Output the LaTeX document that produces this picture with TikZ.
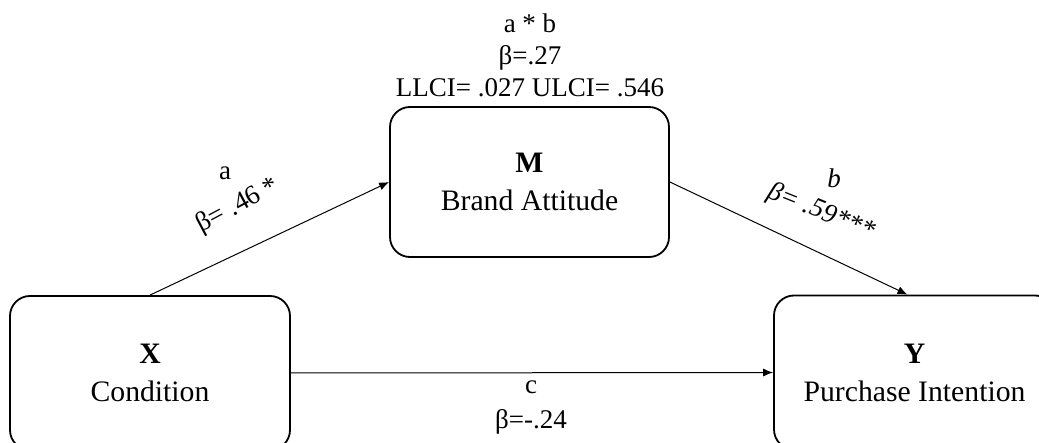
\documentclass[tikz,border=0pt]{standalone}
\usepackage{fontspec}
\setmainfont{Liberation Serif}
\usetikzlibrary{arrows.meta}
\tikzset{
  box/.style={draw, line width=0.9pt, rounded corners=10pt, minimum width=140pt, minimum height=77pt, align=center, inner sep=0pt,
    font=\fontsize{14.85}{19}\selectfont},
  lbl/.style={align=center, inner sep=0pt, font=\fontsize{13.5}{16}\selectfont},
  conn/.style={line width=0.5pt, -{Latex[length=5pt,width=4pt]}}
}
\begin{document}
\begin{tikzpicture}[x=0.5pt,y=-0.5pt]
\useasboundingbox (0,0) rectangle (1039,443);
\clip (0,0) rectangle (1039,443);
\node[box, minimum height=77pt] (X) at (150,373) {\textbf{X}\\Condition};
\node[box, minimum width=140.5pt] (Y) at (914.5,372.5) {\textbf{Y}\\Purchase Intention};
\node[box, minimum width=139.5pt, minimum height=75pt] (M) at (529.5,182) {\textbf{M}\\Brand Attitude};
\node[lbl] (ab) at (530,55) {a * b\\β=.27\\LLCI= .027 ULCI= .546};
\coordinate (Yin) at ([xshift=-3.5pt]Y.north);
\draw[conn] (X.north) -- (M.west);
\draw[conn] (M.east) -- (Yin);
\draw[conn] (X.east) -- (Y.west);
\node[lbl] (la) at (225,173) {a};
\node[lbl, rotate=28] (lb1) at (238,206) {β= .46 *};
\node[lbl, font=\fontsize{13.5}{16}\selectfont\itshape] (lb) at (834,178) {b};
\node[lbl, rotate=-22, font=\fontsize{13.5}{16}\selectfont\itshape] (lb2) at (821,212) {β= .59***};
\node[lbl, font=\fontsize{13.5}{17.5}\selectfont] (lc) at (531,408) {c\\β=-.24};
\end{tikzpicture}
\end{document}
